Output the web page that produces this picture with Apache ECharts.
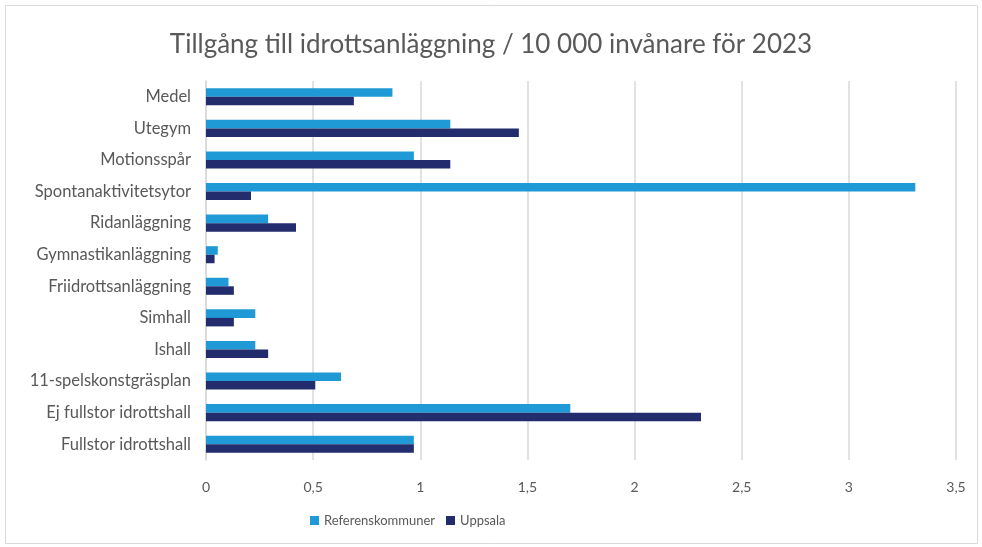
<!DOCTYPE html>
<html><head><meta charset="utf-8">
<script src="https://cdn.jsdelivr.net/npm/echarts@6/dist/echarts.min.js"></script>
<style>html,body{margin:0;padding:0;background:#fff}#c{width:982px;height:547px}</style>
</head><body><div id="c"></div>
<script>
const categories = ["Medel","Utegym","Motionsspår","Spontanaktivitetsytor","Ridanläggning","Gymnastikanläggning","Friidrottsanläggning","Simhall","Ishall","11-spelskonstgräsplan","Ej fullstor idrottshall","Fullstor idrottshall"];
const referens = [0.87,1.14,0.97,3.31,0.29,0.055,0.105,0.23,0.23,0.63,1.70,0.97];
const uppsala = [0.69,1.46,1.14,0.21,0.42,0.04,0.13,0.13,0.29,0.51,2.31,0.97];
const seriesNames = ["Referenskommuner","Uppsala"];
const titleText = "Tillgång till idrottsanläggning / 10 000 invånare för 2023";

const font = "Lato";
const chart = echarts.init(document.getElementById('c'));
chart.setOption({
  animation:false,
  textStyle:{fontFamily:font},
  title:{text:titleText,left:'center',top:27,textStyle:{fontFamily:font,fontSize:26,fontWeight:'normal',color:'#595959'}},
  graphic:[{type:'rect',shape:{x:5.5,y:5.5,width:972,height:538},style:{fill:'none',stroke:'#d9d9d9',lineWidth:1},silent:true}],
  legend:{bottom:15,left:305,itemWidth:9,itemHeight:9,itemGap:11,icon:'rect',textStyle:{fontFamily:font,fontSize:13,color:'#595959'},data:seriesNames},
  grid:{left:206,right:26,top:81,bottom:87,containLabel:false},
  xAxis:{type:'value',min:0,max:3.5,interval:0.5,
    axisLabel:{color:'#595959',fontSize:14,margin:20,formatter:v=>String(v).replace('.',',')},
    splitLine:{lineStyle:{color:'#d9d9d9',width:1.5}},axisLine:{show:false},axisTick:{show:false}},
  yAxis:{type:'category',data:categories,inverse:true,
    axisLabel:{color:'#595959',fontSize:16.5,margin:15},
    axisLine:{show:true,lineStyle:{color:'#d9d9d9',width:1.5}},axisTick:{show:false}},
  series:[
    {name:seriesNames[0],type:'bar',data:referens,itemStyle:{color:'#1f9ad6'},barGap:'0%',barCategoryGap:'46%'},
    {name:seriesNames[1],type:'bar',data:uppsala,itemStyle:{color:'#232d6e'},barGap:'0%',barCategoryGap:'46%'}
  ]
});
</script></body></html>
